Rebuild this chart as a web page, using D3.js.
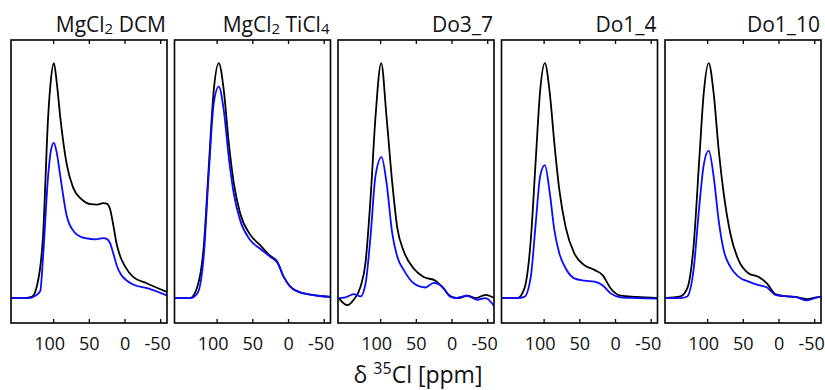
<!DOCTYPE html>
<html>
<head>
<meta charset="utf-8">
<script src="https://cdn.jsdelivr.net/npm/d3@7"></script>
<style>
  body { margin: 0; background: #fff; }
  svg text { font-family: "Open Sans", sans-serif; fill: #111; }
</style>
</head>
<body>
<div id="chart"></div>
<script>
// panel titles, [base, subscript] pieces
var titles = [
    [["MgCl", "2"], [" DCM", ""]],
    [["MgCl", "2"], [" TiCl", "4"]],
    [["Do3_7", ""]],
    [["Do1_4", ""]],
    [["Do1_10", ""]]
];
var tickValues = [100, 50, 0, -50];

// chemical shift (ppm) and normalised intensity, black = total, blue = second trace
var dcmPpmK = [159, 140, 130, 122, 114, 107, 104, 99, 95, 90, 81, 72, 60, 48, 38, 30, 25, 20.4, 15.7, 11, 6.3, -0.7, -12, -31, -60];
var dcmIntK = [0, 0, 0.005, 0.06, 0.27, 0.77, 0.9, 1.0, 0.92, 0.77, 0.57, 0.47, 0.42, 0.40, 0.398, 0.404, 0.402, 0.38, 0.31, 0.23, 0.18, 0.135, 0.09, 0.063, 0.025];
var dcmPpmB = [159, 135, 125, 118, 114, 107, 103, 99, 95, 90, 81, 70, 55, 40, 30, 25, 20.4, 15.7, 11, 5, -3, -12, -33, -60];
var dcmIntB = [0, 0, 0.01, 0.03, 0.18, 0.52, 0.63, 0.66, 0.62, 0.52, 0.35, 0.28, 0.255, 0.25, 0.255, 0.252, 0.235, 0.19, 0.14, 0.10, 0.075, 0.058, 0.041, 0.01];

var ticlPpm = [159, 137, 127, 118, 111, 104, 97, 90, 83, 76, 67, 53, 39, 25, 15, 6, -3.5, -22, -60];
var ticlIntK = [0, 0, 0.048, 0.22, 0.56, 0.885, 1.0, 0.885, 0.66, 0.49, 0.36, 0.27, 0.225, 0.18, 0.155, 0.09, 0.048, 0.02, 0.005];
var ticlIntB = [0, 0, 0.02, 0.18, 0.53, 0.83, 0.90, 0.80, 0.60, 0.445, 0.33, 0.247, 0.21, 0.176, 0.15, 0.09, 0.048, 0.02, 0.005];

var do37PpmK = [158, 146, 137, 127.5, 120.5, 113.5, 106.5, 98.5, 91, 83, 76, 67, 53, 39, 22.5, 11, 1.4, -10, -22, -33.6, -47.6, -60];
var do37IntK = [0, -0.03, -0.007, 0.048, 0.15, 0.42, 0.77, 1.0, 0.77, 0.49, 0.30, 0.20, 0.126, 0.09, 0.074, 0.041, 0.006, 0, 0.01, 0, 0.014, 0];
var do37PpmB = [158, 148.5, 136.8, 127.5, 120.5, 113.5, 106.5, 98, 91, 83, 76, 67, 53, 36.5, 25, 13, 4, -5.6, -22, -36, -47.6, -60];
var do37IntB = [0, 0.003, 0.017, 0.007, 0.06, 0.26, 0.52, 0.60, 0.49, 0.275, 0.176, 0.12, 0.063, 0.045, 0.065, 0.048, 0.014, 0, 0.01, -0.007, 0, -0.036];

var do14Ppm = [159, 136.6, 127, 118, 111, 104.8, 98.3, 91.3, 85, 78, 69, 57, 43, 29, 17.5, 6, -8, -30, -60];
var do14IntK = [0, 0, 0.04, 0.247, 0.59, 0.885, 1.0, 0.87, 0.66, 0.46, 0.30, 0.19, 0.14, 0.12, 0.098, 0.041, 0.01, 0.005, 0];
var do14IntB = [0, 0, 0.005, 0.09, 0.32, 0.52, 0.566, 0.445, 0.29, 0.19, 0.126, 0.084, 0.074, 0.07, 0.055, 0.02, 0.003, 0, -0.002];

var do110Ppm = [159, 137.6, 128, 119, 111, 104.8, 97.8, 90.8, 83.8, 76.8, 67.5, 55.8, 41.8, 27.8, 16, 4.5, -9, -23, -40, -56, -60];
var do110IntK = [0, 0.007, 0.04, 0.22, 0.59, 0.87, 1.0, 0.87, 0.63, 0.445, 0.275, 0.16, 0.105, 0.09, 0.062, 0.017, 0.008, 0.005, -0.004, 0.004, 0.004];
var do110IntB = [0, 0, 0.007, 0.12, 0.39, 0.566, 0.627, 0.516, 0.33, 0.204, 0.133, 0.09, 0.07, 0.055, 0.045, 0.014, 0.008, 0.005, -0.01, 0.004, 0.004];

var panels = [
    { black: [dcmPpmK, dcmIntK], blue: [dcmPpmB, dcmIntB] },
    { black: [ticlPpm, ticlIntK], blue: [ticlPpm, ticlIntB] },
    { black: [do37PpmK, do37IntK], blue: [do37PpmB, do37IntB] },
    { black: [do14Ppm, do14IntK], blue: [do14Ppm, do14IntB] },
    { black: [do110Ppm, do110IntK], blue: [do110Ppm, do110IntB] }
];

var W = 825, H = 390;
var plotTop = 40, plotBottom = 323;
var panelW = 156, step = 163.5, firstLeft = 11;

var svg = d3.select("#chart").append("svg")
    .attr("width", W)
    .attr("height", H);

var y = d3.scaleLinear().domain([-0.106, 1.098]).range([plotBottom, plotTop]);

panels.forEach(function (p, i) {
    var left = firstLeft + i * step;
    var x = d3.scaleLinear().domain([159, -59.5]).range([left, left + panelW]);

    var clipId = "clip" + i;
    svg.append("clipPath").attr("id", clipId)
        .append("rect")
        .attr("x", left).attr("y", plotTop)
        .attr("width", panelW).attr("height", plotBottom - plotTop);

    var line = d3.line()
        .x(function (d) { return x(d[0]); })
        .y(function (d) { return y(d[1]); })
        .curve(d3.curveMonotoneX);

    var g = svg.append("g").attr("clip-path", "url(#" + clipId + ")");
    [["black", "#000"], ["blue", "#0a0aff"]].forEach(function (s) {
        var pts = d3.zip(p[s[0]][0], p[s[0]][1]);
        g.append("path")
            .datum(pts)
            .attr("fill", "none")
            .attr("stroke", s[1])
            .attr("stroke-width", 1.8)
            .attr("stroke-linejoin", "round")
            .attr("d", line);
    });

    // inward ticks top and bottom
    var bx = svg.append("g")
        .attr("transform", "translate(0," + plotBottom + ")")
        .call(d3.axisBottom(x).tickValues(tickValues).tickSize(-4).tickPadding(14)
            .tickFormat(function (d) { return String(d); }));
    bx.select(".domain").remove();
    bx.selectAll("line").attr("stroke", "#000").attr("stroke-width", 1.3);
    bx.selectAll("text")
        .attr("font-size", "18px")
        .attr("font-family", "Open Sans, sans-serif")
        .attr("fill", "#111")
        .attr("dx", function (d) { return d === 100 ? -4 : (d < 0 ? -3 : 0); });

    var tx = svg.append("g")
        .attr("transform", "translate(0," + plotTop + ")")
        .call(d3.axisTop(x).tickValues(tickValues).tickSize(-4).tickFormat(""));
    tx.select(".domain").remove();
    tx.selectAll("line").attr("stroke", "#000").attr("stroke-width", 1.3);

    svg.append("rect")
        .attr("x", left).attr("y", plotTop)
        .attr("width", panelW).attr("height", plotBottom - plotTop)
        .attr("fill", "none")
        .attr("stroke", "#000")
        .attr("stroke-width", 1.6);

    // title, right aligned
    var t = svg.append("text")
        .attr("x", left + panelW - 1)
        .attr("y", 32)
        .attr("text-anchor", "end")
        .attr("font-size", "21px");
    var shift = 0;
    titles[i].forEach(function (part) {
        t.append("tspan").attr("dy", -shift).text(part[0]);
        shift = 0;
        if (part[1]) {
            t.append("tspan").attr("font-size", "15px").attr("dy", 2).text(part[1]);
            shift = 2;
        }
    });
});

var xl = svg.append("text")
    .attr("x", 418)
    .attr("y", 383)
    .attr("text-anchor", "middle")
    .attr("font-size", "23px");
xl.append("tspan").text("\u03b4 ");
xl.append("tspan").attr("font-size", "16px").attr("dy", -9).text("35");
xl.append("tspan").attr("dy", 9).text("Cl [ppm]");
</script>
</body>
</html>
